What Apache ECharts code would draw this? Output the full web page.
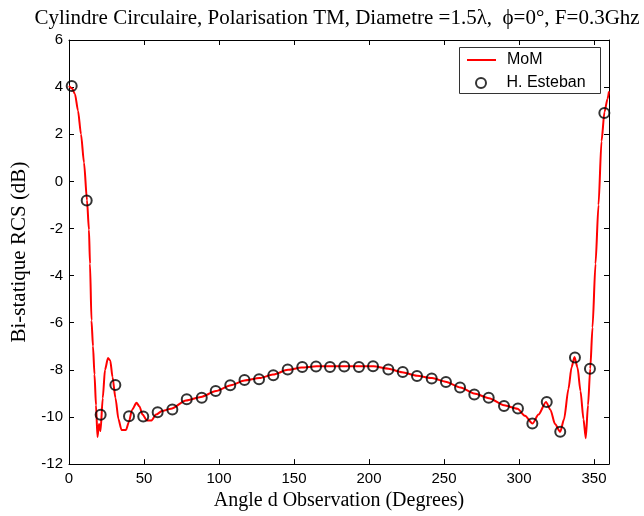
<!DOCTYPE html>
<html>
<head>
<meta charset="utf-8">
<script src="https://cdn.jsdelivr.net/npm/echarts@6/dist/echarts.min.js"></script>
<style>
  html, body { margin: 0; padding: 0; background: #fff; }
  #chart { width: 644px; height: 516px; }
</style>
</head>
<body>
<div id="chart"></div>
<script>
// Bistatic RCS of a circular cylinder, TM polarisation, D = 1.5 lambda, F = 0.3 GHz

// MoM solution: observation angle (degrees) and RCS (dB)
const momAngles = [
  0, 2, 4, 6, 8, 10, 12, 13.3, 14, 15, 16, 17, 18, 19, 20, 21, 22.5, 24, 26, 27.5, 29, 31, 33,
  35, 38, 40, 42, 45, 47, 49, 52, 55, 58, 62, 68, 78, 88, 98, 108, 117, 127, 136, 146,
  155, 165, 174, 183, 193, 203, 213, 222, 232, 242, 251, 261, 270, 280, 290, 299,
  304, 309, 313, 318, 321, 324, 327.5, 330, 333, 335, 337, 339, 341, 343, 344.5,
  346, 347.5, 349, 351, 353, 355, 357, 359, 360
];
const momRcs = [
  4.05, 3.95, 3.7, 3.0, 2.0, 0.8, -0.8, -2.05, -3.5, -5.9, -7.0, -8.2, -9.5, -10.85, -10.3, -10.6, -9.2, -8.0, -7.5, -7.6, -8.3, -9.2, -10.1,
  -10.55, -10.55, -10.2, -9.7, -9.4, -9.55, -9.9, -10.15, -10.15, -9.9, -9.75, -9.65, -9.3, -9.15, -8.9, -8.65, -8.45, -8.35, -8.2, -8.0,
  -7.9, -7.85, -7.85, -7.85, -7.85, -7.85, -7.95, -8.1, -8.25, -8.35, -8.5, -8.75, -9.0, -9.2, -9.5, -9.65,
  -9.95, -10.28, -9.9, -9.36, -9.7, -10.3, -10.63, -10.1, -8.8, -7.9, -7.45, -7.9, -8.9, -10.1, -10.9,
  -9.5, -7.95, -6.2, -3.5, -1.0, 1.7, 2.95, 3.5, 3.82
];

// Reference solution (H. Esteban): observation angle (degrees) and RCS (dB)
const estebanAngles = [
  1.8, 11.8, 21.1, 30.9, 40.0, 49.5, 59.1, 68.9, 78.5, 88.5, 97.8, 107.5, 117.0,
  126.7, 136.2, 145.8, 155.5, 164.7, 174.0, 183.5, 193.3, 202.7, 212.9, 222.5,
  232.0, 241.8, 251.3, 260.7, 270.2, 279.8, 290.0, 299.3, 308.9, 318.5, 327.5,
  337.3, 347.3, 356.9
];
const estebanRcs = [
  4.05, -0.81, -9.91, -8.64, -9.97, -9.98, -9.80, -9.68, -9.25, -9.18, -8.90, -8.65, -8.43,
  -8.40, -8.23, -7.98, -7.88, -7.86, -7.88, -7.86, -7.88, -7.85, -7.98, -8.09,
  -8.26, -8.37, -8.52, -8.75, -9.05, -9.18, -9.53, -9.64, -10.28, -9.36, -10.63,
  -7.48, -7.95, 2.90
];

// Axis ranges
const xMin = 0, xMax = 360, xStep = 50;
const yMin = -12, yMax = 6, yStep = 2;

const serif = '"Liberation Serif", "DejaVu Serif", serif';
const sans = '"Liberation Sans", Arial, sans-serif';

const momData = momAngles.map((a, i) => [a, momRcs[i]]);
const estebanData = estebanAngles.map((a, i) => [a, estebanRcs[i]]);

const frameAxis = {
  axisLine: { show: true, onZero: false, lineStyle: { color: '#000', width: 1 } },
  axisTick: { show: true, inside: true, length: 5, lineStyle: { color: '#000' } },
  splitLine: { show: false }
};

const legendText = { fontFamily: sans, fontSize: 16, color: '#000', padding: [0, 0, 0, 6] };

const chart = echarts.init(document.getElementById('chart'), null, { renderer: 'canvas' });
chart.setOption({
  animation: false,
  backgroundColor: '#fff',
  title: {
    text: 'Cylindre Circulaire, Polarisation TM, Diametre =1.5\u03bb,  \u03d5=0\u00b0, F=0.3Ghz',
    left: 332, top: 3, textAlign: 'center',
    textStyle: { fontFamily: serif, fontSize: 21, fontWeight: 'normal', color: '#000' }
  },
  // legend frame
  graphic: [{
    type: 'rect', left: 459, top: 47, z: 10,
    shape: { width: 141, height: 46 },
    style: { fill: '#fff', stroke: '#333', lineWidth: 1 }
  }],
  legend: [
    {
      left: 467, top: 52, padding: 0,
      itemWidth: 29, itemHeight: 2,
      textStyle: legendText, z: 20,
      data: [{ name: 'MoM', icon: 'rect' }]
    },
    {
      left: 475, top: 75, padding: 0,
      itemWidth: 29, itemHeight: 10,
      textStyle: legendText, z: 20,
      data: ['H. Esteban']
    }
  ],
  grid: { left: 69, right: 35, top: 40, bottom: 51, containLabel: false },
  xAxis: [
    Object.assign({
      type: 'value', min: xMin, max: xMax, interval: xStep, position: 'bottom',
      name: 'Angle d Observation (Degrees)', nameLocation: 'middle', nameGap: 18,
      nameTextStyle: { fontFamily: serif, fontSize: 20, color: '#000' },
      axisLabel: { showMaxLabel: false, fontFamily: sans, fontSize: 15, color: '#000', margin: 7 }
    }, frameAxis),
    Object.assign({
      type: 'value', min: xMin, max: xMax, interval: xStep, position: 'top',
      axisLabel: { show: false }
    }, frameAxis)
  ],
  yAxis: [
    Object.assign({
      type: 'value', min: yMin, max: yMax, interval: yStep, position: 'left',
      name: 'Bi-statique RCS (dB)', nameLocation: 'middle', nameGap: 36,
      nameTextStyle: { fontFamily: serif, fontSize: 21, color: '#000' },
      axisLabel: { fontFamily: sans, fontSize: 15, color: '#000', margin: 6 }
    }, frameAxis),
    Object.assign({
      type: 'value', min: yMin, max: yMax, interval: yStep, position: 'right',
      axisLabel: { show: false }
    }, frameAxis)
  ],
  series: [
    {
      name: 'MoM', type: 'line', data: momData,
      xAxisIndex: 0, yAxisIndex: 0,
      showSymbol: false, symbol: 'none', smooth: 0.25, smoothMonotone: 'x',
      lineStyle: { color: '#ff0000', width: 2 },
      itemStyle: { color: '#ff0000' },
      z: 2
    },
    {
      name: 'H. Esteban', type: 'scatter', data: estebanData,
      xAxisIndex: 0, yAxisIndex: 0,
      symbol: 'circle', symbolSize: 10,
      itemStyle: { color: 'rgba(0,0,0,0)', borderColor: '#000', borderWidth: 2 },
      z: 3
    }
  ]
});
</script>
</body>
</html>
